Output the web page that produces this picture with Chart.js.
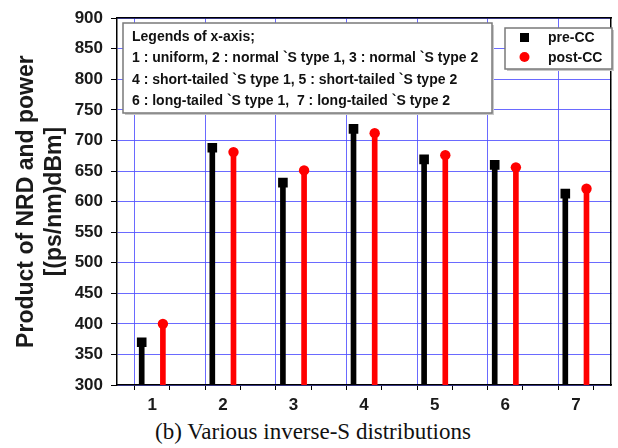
<!DOCTYPE html>
<html>
<head>
<meta charset="utf-8">
<script src="https://cdn.jsdelivr.net/npm/chart.js@4.4.1/dist/chart.umd.min.js"></script>
<style>
  body { margin: 0; background: #fff; }
  #wrap { position: relative; width: 618px; height: 420px; }
  #caption {
    width: 618px; height: 28px; line-height: 24px;
    font-family: "Liberation Serif", "Times New Roman", serif;
    font-size: 23px; color: #111; text-align: center;
    padding-left: 8px; box-sizing: border-box;
  }
</style>
</head>
<body>
<div id="wrap"><canvas id="chart"></canvas></div>
<div id="caption">(b) Various inverse-S distributions</div>
<script>
// x positions (distribution index) and the two series
const categories = [1, 2, 3, 4, 5, 6, 7];
const preCC  = [370, 688, 631, 719, 669, 660, 613];
const postCC = [400, 681, 651, 712, 676, 656, 621];

const yMin = 300, yMax = 900, yStep = 50;
const xMin = 0.5, xMax = 7.5;

const seriesNames = ['pre-CC', 'post-CC'];
const axisLegendLines = [
  'Legends of x-axis;',
  '1 : uniform, 2 : normal `S type 1, 3 : normal `S type 2',
  '4 : short-tailed `S type 1, 5 : short-tailed `S type 2',
  '6 : long-tailed `S type 1,  7 : long-tailed `S type 2'
];
const yTitle = ['Product of NRD and power', '[(ps/nm)dBm]'];

const shift = 0.15;   // pre left, post right of each index
const blue = 'rgba(80,80,255,0.85)';
const font = '"Liberation Sans", Arial, sans-serif';

function pts(vals, dx) {
  return categories.map((c, i) => ({ x: c + dx, y: vals[i] }));
}
function isInt(v) { return Math.abs(v - Math.round(v)) < 1e-6; }

// the two boxed legends inside the plot
const boxes = {
  id: 'boxes',
  afterDraw(chart) {
    const ctx = chart.ctx;
    ctx.save();
    function box(x, y, w, h) {
      ctx.fillStyle = '#c8c8c8';
      ctx.fillRect(x + 2, y + 2, w, h);
      ctx.fillStyle = '#fff';
      ctx.fillRect(x, y, w, h);
      ctx.strokeStyle = '#7a7a7a';
      ctx.lineWidth = 1.5;
      ctx.strokeRect(x, y, w, h);
    }
    box(123, 23, 369, 90);
    ctx.fillStyle = '#111';
    ctx.font = 'bold 14px ' + font;
    ctx.textBaseline = 'middle';
    axisLegendLines.forEach((t, i) => ctx.fillText(t, 132, 37 + i * 21.4));

    box(505, 28, 107, 41);
    ctx.fillStyle = '#000';
    ctx.fillRect(520, 33, 9, 9);
    ctx.fillStyle = '#f00';
    ctx.beginPath();
    ctx.arc(524.5, 57, 5, 0, Math.PI * 2);
    ctx.fill();
    ctx.fillStyle = '#111';
    ctx.fillText(seriesNames[0], 548, 38);
    ctx.fillText(seriesNames[1], 548, 58);
    ctx.restore();
  }
};

new Chart(document.getElementById('chart'), {
  type: 'bar',
  data: {
    datasets: [
      { label: 'pre stems', data: pts(preCC, -shift), backgroundColor: '#000', barThickness: 5, grouped: false, order: 2 },
      { label: 'post stems', data: pts(postCC, shift), backgroundColor: '#f00', barThickness: 5, grouped: false, order: 2 },
      { type: 'scatter', label: seriesNames[0], data: pts(preCC, -shift), pointStyle: 'rect',
        pointRadius: 6.8, backgroundColor: '#000', borderWidth: 0, order: 1 },
      { type: 'scatter', label: seriesNames[1], data: pts(postCC, shift), pointStyle: 'circle',
        pointRadius: 5.2, backgroundColor: '#f00', borderWidth: 0, order: 1 }
    ]
  },
  options: {
    responsive: true,
    maintainAspectRatio: false,
    animation: false,
    layout: { padding: { top: 16, right: 3, left: 0, bottom: 0 } },
    plugins: { legend: { display: false }, tooltip: { enabled: false } },
    scales: {
      x: {
        type: 'linear', position: 'bottom', min: xMin, max: xMax, offset: false,
        ticks: {
          stepSize: 0.5, autoSkip: false, maxRotation: 0, padding: 5,
          callback: v => isInt(v) ? Math.round(v) : '',
          font: { family: font, size: 17, weight: 'bold' }, color: '#1a1a1a'
        },
        grid: { color: c => (c.tick && isInt(c.tick.value)) ? blue : 'rgba(0,0,0,0)',
                tickColor: '#000', tickLength: 5 },
        border: { color: '#000', width: 1.5 },
        afterFit: s => { s.height = 35; }
      },
      x2: {
        type: 'linear', position: 'top', min: xMin, max: xMax,
        ticks: { display: false },
        grid: { drawOnChartArea: false, drawTicks: false },
        border: { color: '#000', width: 1.5 },
        afterFit: s => { s.height = 0; }
      },
      y: {
        type: 'linear', position: 'left', min: yMin, max: yMax,
        ticks: {
          stepSize: yStep, padding: 8,
          font: { family: font, size: 17, weight: 'bold' }, color: '#1a1a1a'
        },
        grid: { color: blue, tickColor: '#000', tickLength: 6 },
        border: { color: '#000', width: 1.5 },
        title: {
          display: true, text: yTitle, color: '#1a1a1a',
          font: { family: font, size: 23, weight: 'bold', lineHeight: 1.22 },
          padding: { top: 13, bottom: 0 }
        },
        afterFit: s => { s.width = 117; }
      },
      y2: {
        type: 'linear', position: 'right', min: yMin, max: yMax,
        ticks: { display: false },
        grid: { drawOnChartArea: false, drawTicks: false },
        border: { color: '#000', width: 1.5 },
        afterFit: s => { s.width = 0; }
      }
    }
  },
  plugins: [boxes]
});
</script>
</body>
</html>
